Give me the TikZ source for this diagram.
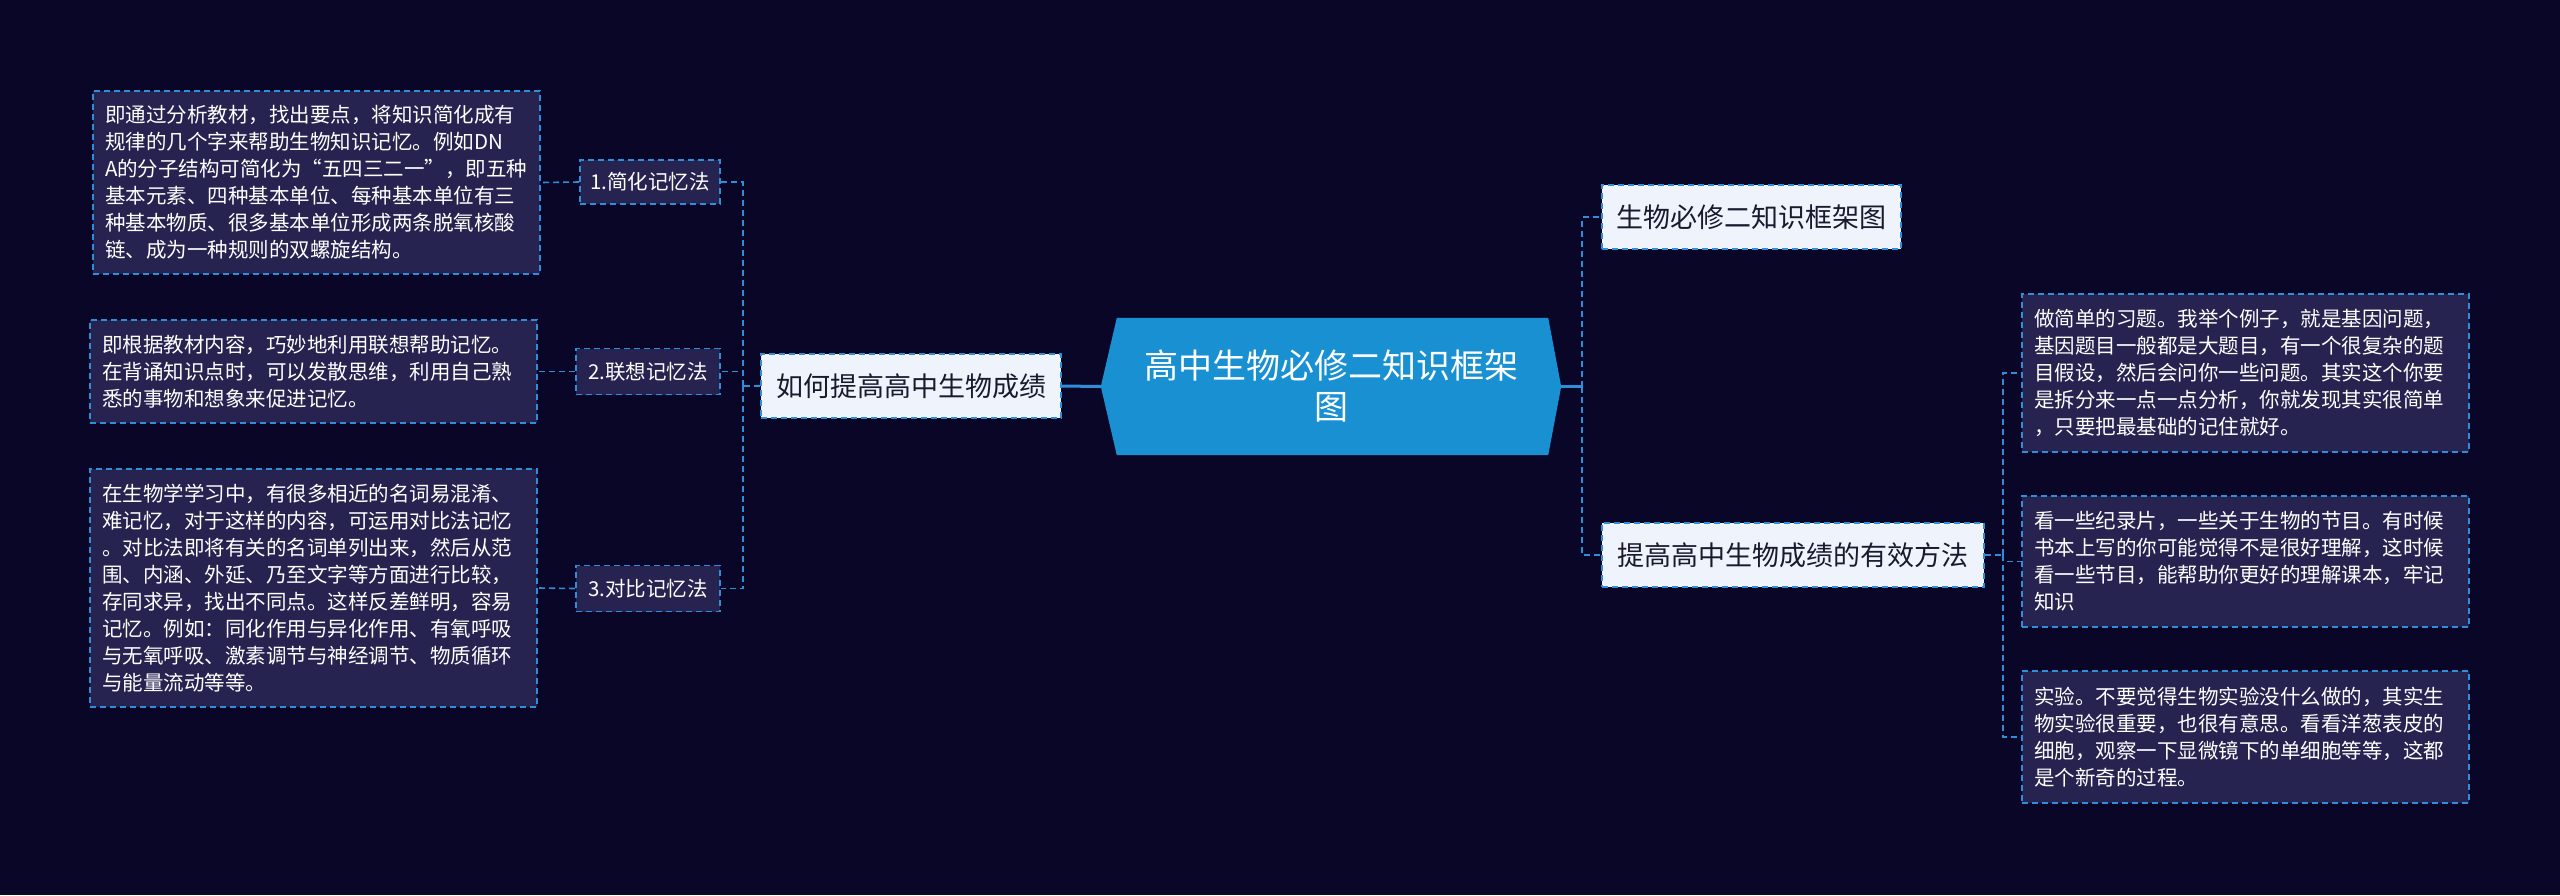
\documentclass[tikz,border=0pt]{standalone}
\usepackage{fontspec}
\setmainfont{Noto Sans CJK SC}
\usetikzlibrary{calc}
\definecolor{bg}{HTML}{0A0628}
\definecolor{boxfill}{HTML}{262350}
\definecolor{line}{HTML}{2E8FD8}
\definecolor{light}{HTML}{EEF3FC}
\definecolor{dark}{HTML}{1A1A2E}
\definecolor{hub}{HTML}{1890D2}
\begin{document}
\begin{tikzpicture}[x=1pt,y=-1pt,
  dbox/.style={draw=line,line width=1.6pt,dash pattern=on 6pt off 4pt,fill=boxfill,text=white,
    align=left,inner xsep=12pt,inner ysep=0pt,minimum width=447pt,text width=423pt,
    font=\fontsize{20.5}{27}\selectfont},
  sub/.style={draw=line,line width=1.6pt,dash pattern=on 6pt off 4pt,fill=boxfill,text=white,
    inner sep=0pt,minimum width=144pt,minimum height=46pt,font=\fontsize{20.5}{24}\selectfont},
  lnode/.style={draw=line,line width=1.6pt,dash pattern=on 6pt off 4pt,fill=light,text=dark,
    inner xsep=12pt,inner ysep=0pt,minimum height=64pt,font=\fontsize{27}{32}\selectfont},
  conn/.style={draw=line,line width=1.6pt,dash pattern=on 6pt off 4pt},
  solidconn/.style={draw=line,line width=3pt}]
\fill[bg] (0,0) rectangle (2560,895);
\useasboundingbox (0,0) rectangle (2560,895);
% center
\node[minimum width=460pt,minimum height=137pt,inner sep=0pt] (c) at (1331,386.5) {};
\fill[hub] (c.west) -- ($(c.north west)+(16,0)$) -- ($(c.north east)+(-13,0)$) -- (c.east)
  -- ($(c.south east)+(-13,0)$) -- ($(c.south west)+(16,0)$) -- cycle;
\node[text=white,align=center,font=\fontsize{34}{41}\selectfont] (ct) at (c.center) {高中生物必修二知识框架\\图};
% left
\node[lnode,minimum width=300pt] (L) at (911,386) {如何提高高中生物成绩};
\node[sub,minimum width=140pt,minimum height=44pt] (s1) at (650,182) {1.简化记忆法};
\node[sub] (s2) at (648,371.5) {2.联想记忆法};
\node[sub] (s3) at (648,588.5) {3.对比记忆法};
\node[dbox,minimum height=183pt] (b1) at (316.5,182.5) {即通过分析教材，找出要点，将知识简化成有\\规律的几个字来帮助生物知识记忆。例如DN\\A的分子结构可简化为“五四三二一”，即五种\\基本元素、四种基本单位、每种基本单位有三\\种基本物质、很多基本单位形成两条脱氧核酸\\链、成为一种规则的双螺旋结构。};
\node[dbox,minimum height=103pt] (b2) at (313.5,371.5) {即根据教材内容，巧妙地利用联想帮助记忆。\\在背诵知识点时，可以发散思维，利用自己熟\\悉的事物和想象来促进记忆。};
\node[dbox,minimum height=238pt] (b3) at (313.5,588) {在生物学学习中，有很多相近的名词易混淆、\\难记忆，对于这样的内容，可运用对比法记忆\\。对比法即将有关的名词单列出来，然后从范\\围、内涵、外延、乃至文字等方面进行比较，\\存同求异，找出不同点。这样反差鲜明，容易\\记忆。例如：同化作用与异化作用、有氧呼吸\\与无氧呼吸、激素调节与神经调节、物质循环\\与能量流动等等。};
% right
\node[lnode,minimum width=299pt] (R1) at (1751.5,217) {生物必修二知识框架图};
\node[lnode,minimum width=382pt] (R2) at (1793,555) {提高高中生物成绩的有效方法};
\node[dbox,minimum height=158pt] (r1) at (2245.5,373) {做简单的习题。我举个例子，就是基因问题，\\基因题目一般都是大题目，有一个很复杂的题\\目假设，然后会问你一些问题。其实这个你要\\是拆分来一点一点分析，你就发现其实很简单\\，只要把最基础的记住就好。};
\node[dbox,minimum height=131pt] (r2) at (2245.5,561.5) {看一些纪录片，一些关于生物的节目。有时候\\书本上写的你可能觉得不是很好理解，这时候\\看一些节目，能帮助你更好的理解课本，牢记\\知识};
\node[dbox,minimum height=132pt] (r3) at (2245.5,737) {实验。不要觉得生物实验没什么做的，其实生\\物实验很重要，也很有意思。看看洋葱表皮的\\细胞，观察一下显微镜下的单细胞等等，这都\\是个新奇的过程。};
% connectors
\draw[solidconn] (c.west) -- (L.east);
\draw[solidconn] (c.east) -- (1582,386.5);
\coordinate (jl) at (743,386);
\draw[conn] (L.west) -- (jl);
\foreach \n in {s1,s2,s3} \draw[conn] (jl) |- (\n.east);
\draw[conn] (s1.west) -- (b1.east);
\draw[conn] (s2.west) -- (b2.east);
\draw[conn] (s3.west) -- (b3.east);
\coordinate (jr) at (1582,386.5);
\draw[conn] (jr) |- (R1.west);
\draw[conn] (jr) |- (R2.west);
\coordinate (jr2) at (2003,555);
\draw[conn] (R2.east) -- (jr2);
\foreach \n in {r1,r2,r3} \draw[conn] (jr2) |- (\n.west);
\end{tikzpicture}
\end{document}
